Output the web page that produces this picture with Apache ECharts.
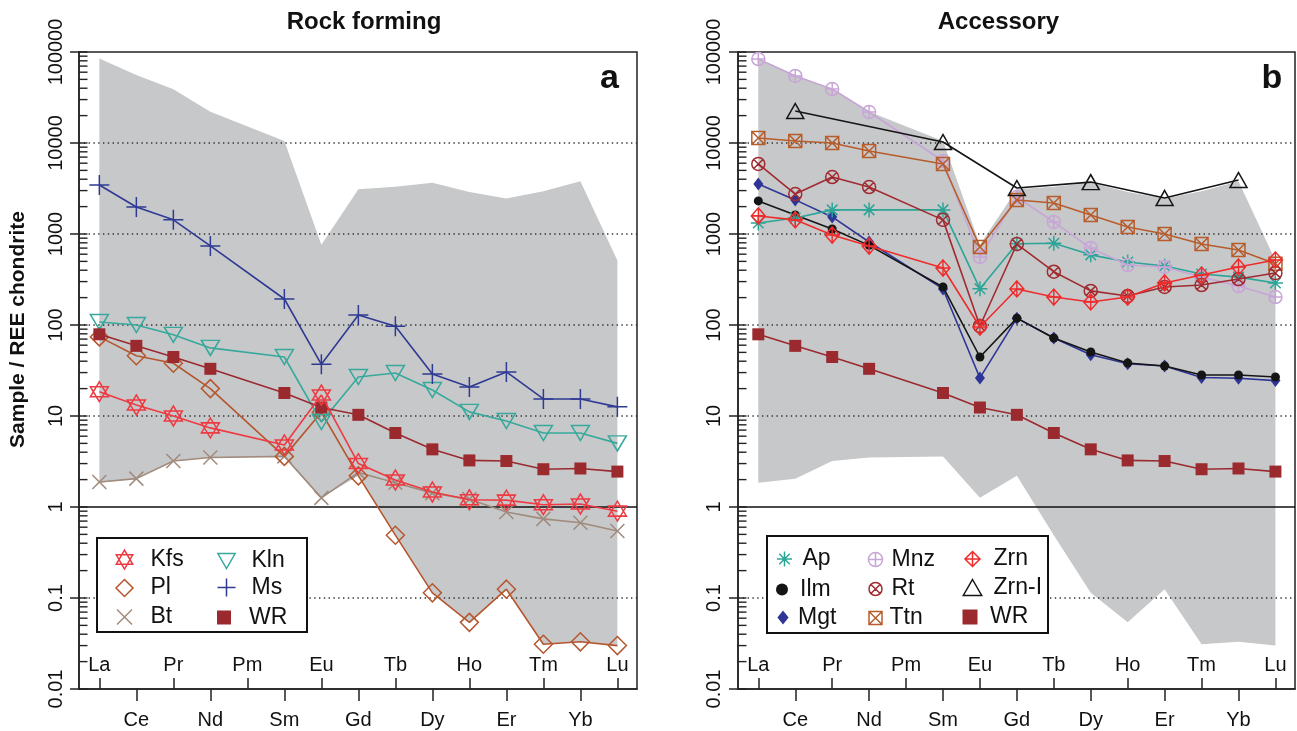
<!DOCTYPE html>
<html><head><meta charset="utf-8">
<script src="https://cdn.jsdelivr.net/npm/echarts@6/dist/echarts.min.js"></script>
<style>html,body{margin:0;padding:0;background:#fff}#c{width:1297px;height:731px}</style>
</head><body><div id="c"></div>
<script>
// ---------------- data ----------------
const ELEMENTS = ['La','Ce','Pr','Nd','Pm','Sm','Eu','Gd','Tb','Dy','Ho','Er','Tm','Yb','Lu'];
const TOP_ROW_TICKS = [0,2,4,6,8,10,12,14];
const BOTTOM_ROW_TICKS = [1,3,5,7,9,11,13];

// panel a : rock forming minerals
const kfs = [18.5, 13.2, 10.0, 7.4, null, 4.8, 17.0, 3.0, 1.98, 1.46, 1.2, 1.19, 1.06, 1.08, 0.9];
const pl  = [74, 46, 38, 20, null, 3.6, 11, 2.2, 0.49, 0.114, 0.054, 0.125, 0.031, 0.033, 0.030];
const bt  = [1.88, 2.05, 3.2, 3.5, null, 3.6, 1.26, 2.4, 1.85, 1.42, 1.22, 0.88, 0.74, 0.67, 0.545];
const kln = [108, 100, 78, 56, null, 44.5, 8.6, 26.8, 29.7, 19.3, 11.1, 8.8, 6.5, 6.5, 5.0];
const ms  = [3450, 1980, 1430, 740, null, 193, 37, 129, 97, 29, 20.8, 30.5, 15.4, 15.4, 12.6];
const wr  = [79, 59, 44.5, 33, null, 17.9, 12.4, 10.3, 6.5, 4.3, 3.25, 3.2, 2.6, 2.65, 2.45];

// panel b : accessory minerals
const ap   = [1320, 1500, 1840, 1840, null, 1840, 250, 780, 790, 590, 493, 445, 363, 336, 290];
const ilm  = [2310, 1620, 1135, 750, null, 262, 44.5, 119, 72, 50.5, 38.2, 35.4, 28.2, 28.2, 26.8];
const mgt  = [3540, 2370, 1540, 817, null, 249, 26.2, 119, 72, 47, 37.5, 35.4, 26.5, 26, 24.5];
const mnz  = [83700, 54500, 39200, 21900, null, 6340, 560, 2550, 1355, 701, 456, 434, 336, 268, 203];
const rt   = [5880, 2750, 4230, 3280, null, 1430, 97.5, 776, 385, 237, 208, 262, 275, 320, 372];
const ttn  = [11350, 10500, 10000, 8170, null, 5880, 720, 2365, 2190, 1620, 1195, 1000, 776, 667, 470];
const zrn  = [1580, 1430, 975, 738, null, 423, 95, 249, 203, 179, 203, 290, 354, 434, 518];
const zrnI = [null, 22500, null, null, null, 10260, null, 3200, null, 3720, null, 2490, null, 3920, null];

// grey envelope (range of all minerals)
const envUpper = [85000, 56000, 39000, 22000, null, 10500, 760, 3100, 3300, 3650, 2900, 2450, 2950, 3800, 510];
const envLower = [1.85, 2.05, 3.2, 3.5, null, 3.6, 1.26, 2.2, 0.49, 0.114, 0.054, 0.125, 0.031, 0.033, 0.030];

const DOTTED_LEVELS = [0.1, 10, 100, 1000, 10000];
const SOLID_LEVELS = [1];

// ---------------- styles ----------------
const FONT = '"Liberation Sans", Arial, Helvetica, sans-serif';
const GRAY = '#c7c8ca';
const CIRC = 'M0,50 A50,50 0 1 1 100,50 A50,50 0 1 1 0,50 Z';
const SQ = 'M0,0 L100,0 L100,100 L0,100 Z';
const DIA = 'M50,0 L100,50 L50,100 L0,50 Z';
const PLUS = 'M50,0 L50,100 M0,50 L100,50';
const XS = 'M0,0 L100,100 M100,0 L0,100';
const XS_IN = 'M15,15 L85,85 M85,15 L15,85';
const SYM = {
  star: {p: 'M50,0 L93.3,75 L6.7,75 Z M50,100 L6.7,25 L93.3,25 Z', ar: 0.866},
  diamond: {p: DIA, ar: 1},
  xcross: {p: XS, ar: 1},
  triDown: {p: 'M0,0 L100,0 L50,87 Z', ar: 1.149},
  triUp: {p: 'M50,0 L100,87 L0,87 Z', ar: 1.149},
  plus: {p: PLUS, ar: 1},
  square: {p: SQ, ar: 1},
  aster: {p: PLUS + ' ' + XS_IN, ar: 1},
  circle: {p: CIRC, ar: 1},
  circlePlus: {p: CIRC + ' ' + PLUS, ar: 1},
  circleX: {p: CIRC + ' ' + XS_IN, ar: 1},
  squareX: {p: SQ + ' ' + XS, ar: 1},
  diamondPlus: {p: DIA + ' ' + PLUS, ar: 1},
  diamondNarrow: {p: 'M40,0 L80,50 L40,100 L0,50 Z', ar: 0.8}
};
const STYLE = {
  'Kfs':  {color: '#ee3a42', sym: 'star',        hollow: true,  size: [18, 20]},
  'Pl':   {color: '#b5572e', sym: 'diamond',     hollow: true,  size: [18, 18]},
  'Bt':   {color: '#a08b7c', sym: 'xcross',      hollow: true,  size: [14, 14]},
  'Kln':  {color: '#37a99c', sym: 'triDown',     hollow: true,  size: [18, 15]},
  'Ms':   {color: '#2f3a93', sym: 'plus',        hollow: true,  size: [20, 20]},
  'WR':   {color: '#9b2a2f', sym: 'square',      hollow: false, size: [12, 12]},
  'Ap':   {color: '#2ca597', sym: 'aster',       hollow: true,  size: [15, 15]},
  'Ilm':  {color: '#151515', sym: 'circle',      hollow: false, size: [9, 9]},
  'Mgt':  {color: '#2e3596', sym: 'diamondNarrow', hollow: false, size: [10, 13]},
  'Mnz':  {color: '#c8a5d7', sym: 'circlePlus',  hollow: true,  size: [13, 13]},
  'Rt':   {color: '#a02b30', sym: 'circleX',     hollow: true,  size: [13, 13]},
  'Ttn':  {color: '#b75d2c', sym: 'squareX',     hollow: true,  size: [13, 13]},
  'Zrn':  {color: '#ee2c2c', sym: 'diamondPlus', hollow: true,  size: [14, 16]},
  'Zrn-I':{color: '#151515', sym: 'triUp',       hollow: true,  size: [17, 15]}
};
const PANEL_A = [['Bt', bt], ['Pl', pl], ['Kln', kln], ['Ms', ms], ['WR', wr], ['Kfs', kfs]];
const PANEL_B = [['WR', wr], ['Mgt', mgt], ['Ilm', ilm], ['Ap', ap], ['Mnz', mnz], ['Ttn', ttn], ['Rt', rt], ['Zrn', zrn], ['Zrn-I', zrnI]];

const LEGEND_A = [
  {name: 'Kfs', cx: 122, tx: 148, cy: 557, h: 19},
  {name: 'Pl',  cx: 122, tx: 148, cy: 585, h: 17},
  {name: 'Bt',  cx: 122, tx: 148, cy: 613, h: 15},
  {name: 'Kln', cx: 224, tx: 249, cy: 557, h: 15},
  {name: 'Ms',  cx: 224, tx: 249, cy: 585, h: 18},
  {name: 'WR',  cx: 224, tx: 249, cy: 613, h: 14}
];
const LEGEND_B = [
  {name: 'Ap',    cx: 782, tx: 800, cy: 555, h: 15},
  {name: 'Ilm',   cx: 782, tx: 800, cy: 584, h: 12},
  {name: 'Mgt',   cx: 783, tx: 798, cy: 613, h: 14},
  {name: 'Mnz',   cx: 873, tx: 889, cy: 555, h: 14},
  {name: 'Rt',    cx: 873, tx: 889, cy: 584, h: 13},
  {name: 'Ttn',   cx: 873, tx: 887, cy: 613, h: 13},
  {name: 'Zrn',   cx: 970, tx: 991, cy: 555, h: 15},
  {name: 'Zrn-I', cx: 970, tx: 991, cy: 584, h: 16},
  {name: 'WR',    cx: 970, tx: 990, cy: 613, h: 15}
];

// ---------------- layout ----------------
const X_MIN = -0.55, X_MAX = 14.53;
const GRIDS = [
  {left: 79, top: 52, width: 558, height: 637, labelMargin: 13},
  {left: 738, top: 52, width: 557, height: 637, labelMargin: 14}
];
const TICK_VALUES = [];
for (let e = -2; e <= 5; e++) for (let m = 1; m <= 9; m++) { const v = m * Math.pow(10, e); if (v <= 100000 * 1.0001) TICK_VALUES.push(+v.toPrecision(6)); }

function pts(arr) { return arr.map((v, i) => v == null ? null : [i, v]).filter(Boolean); }
function symStyle(s) {
  return s.hollow ? {color: 'none', borderColor: s.color, borderWidth: 1.5}
                  : {color: s.color, borderColor: s.color, borderWidth: 0};
}

const grid = GRIDS.map(g => ({left: g.left, top: g.top, width: g.width, height: g.height,
  show: true, borderColor: '#222', borderWidth: 1.5, backgroundColor: 'transparent', outerBoundsMode: 'none', containLabel: false}));

const xAxis = [], yAxis = [], series = [], legend = [];
GRIDS.forEach((g, gi) => {
  const common = {type: 'value', gridIndex: gi, min: X_MIN, max: X_MAX, position: 'bottom', splitLine: {show: false}, z: 10};
  xAxis.push(Object.assign({}, common, {
    axisLine: {show: true, onZero: false, lineStyle: {color: '#222', width: 1.5}},
    axisTick: {show: true, inside: true, length: 11, customValues: TOP_ROW_TICKS, lineStyle: {color: '#222', width: 1.5}},
    axisLabel: {show: true, inside: true, margin: 14, customValues: TOP_ROW_TICKS, formatter: v => ELEMENTS[Math.round(v)],
      fontSize: 20, fontFamily: FONT, color: '#111'}
  }));
  xAxis.push(Object.assign({}, common, {
    axisLine: {show: false, onZero: false},
    axisTick: {show: true, inside: false, length: 12, customValues: BOTTOM_ROW_TICKS, lineStyle: {color: '#222', width: 1.5}},
    axisLabel: {show: true, inside: false, margin: 21, customValues: BOTTOM_ROW_TICKS, formatter: v => ELEMENTS[Math.round(v)],
      fontSize: 20, fontFamily: FONT, color: '#111'}
  }));
  yAxis.push({type: 'log', logBase: 10, gridIndex: gi, min: 0.01, max: 100000, z: 10,
    axisLine: {show: true, onZero: false, lineStyle: {color: '#222', width: 1.5}},
    axisTick: {show: true, inside: false, length: 9, lineStyle: {color: '#222', width: 1.5}},
    minorTick: {show: false}, splitLine: {show: false},
    axisLabel: {rotate: 90, margin: g.labelMargin, fontSize: 20, fontFamily: FONT, color: '#111',
      formatter: v => { const e = Math.round(Math.log10(v)); return e >= 0 ? String(Math.pow(10, e)) : Math.pow(10, e).toFixed(-e); }}
  });
  const xi = 2 * gi, yi = gi;
  // grey envelope
  series.push({type: 'custom', name: 'range', xAxisIndex: xi, yAxisIndex: yi, z: 1, silent: true, data: [[0, 1]],
    renderItem: (params, api) => {
      const up = [], lo = [];
      ELEMENTS.forEach((e, i) => {
        if (envUpper[i] != null) up.push(api.coord([i, envUpper[i]]));
        if (envLower[i] != null) lo.push(api.coord([i, envLower[i]]));
      });
      return {type: 'polygon', shape: {points: up.concat(lo.reverse())}, style: {fill: GRAY}};
    }});
  // reference lines
  series.push({type: 'custom', name: 'ref', xAxisIndex: xi, yAxisIndex: yi, z: 2, silent: true,
    data: DOTTED_LEVELS.map(v => [0, v, 0]).concat(SOLID_LEVELS.map(v => [0, v, 1])),
    renderItem: (params, api) => {
      const v = api.value(1), solid = api.value(2) === 1;
      const a = api.coord([X_MIN, v]), b = api.coord([X_MAX, v]);
      return {type: 'line', shape: {x1: a[0], y1: a[1], x2: b[0], y2: b[1]},
        style: solid ? {stroke: '#111', lineWidth: 1.6} : {stroke: '#333', lineWidth: 1.4, lineDash: [1.4, 3.4]}};
    }});
  // inner y ticks (major + minor)
  series.push({type: 'custom', name: 'ticks', xAxisIndex: xi, yAxisIndex: yi, z: 6, silent: true, clip: false,
    data: TICK_VALUES.map(v => [X_MIN, v]),
    renderItem: (params, api) => {
      const p = api.coord([X_MIN, api.value(1)]);
      return {type: 'line', shape: {x1: p[0], y1: p[1], x2: p[0] + 8.5, y2: p[1]}, style: {stroke: '#222', lineWidth: 1.4}};
    }});
  const list = gi === 0 ? PANEL_A : PANEL_B;
  list.forEach(([name, arr], k) => {
    const s = STYLE[name];
    series.push({type: 'line', name, xAxisIndex: xi, yAxisIndex: yi, data: pts(arr), z: 5 + k * 0.01,
      symbol: 'path://' + SYM[s.sym].p, symbolSize: s.size, symbolKeepAspect: false, showSymbol: true,
      lineStyle: {color: s.color, width: 1.6}, itemStyle: symStyle(s), emphasis: {disabled: true}, silent: true});
  });
  const lg = gi === 0 ? LEGEND_A : LEGEND_B;
  lg.forEach(it => {
    const s = STYLE[it.name];
    const w = 2 * (it.tx - 5 - it.cx);
    const visW = it.h * SYM[s.sym].ar;
    legend.push({show: true, selectedMode: false, orient: 'vertical', left: it.cx - visW / 2, top: it.cy - it.h / 2,
      padding: 0, itemWidth: w, itemHeight: it.h, itemGap: 0, z: 20, symbolKeepAspect: true,
      textStyle: {fontSize: 23, fontFamily: FONT, color: '#111', lineHeight: 8},
      data: [{name: it.name, icon: 'path://' + SYM[s.sym].p, itemStyle: symStyle(s)}]});
  });
});

function txt(x, y, text, size, bold, rot) {
  return {type: 'text', x, y, rotation: rot || 0, z: 30, silent: true,
    style: {text, fontSize: size, fontWeight: bold ? 'bold' : 'normal', fontFamily: FONT, fill: '#111',
      align: 'center', verticalAlign: 'middle', textAlign: 'center', textVerticalAlign: 'middle'}};
}
const graphic = {elements: [
  {type: 'rect', z: 15, silent: true, shape: {x: 97, y: 538, width: 210, height: 94}, style: {fill: '#fff', stroke: '#111', lineWidth: 2}},
  {type: 'rect', z: 15, silent: true, shape: {x: 767, y: 536, width: 281, height: 97}, style: {fill: '#fff', stroke: '#111', lineWidth: 2}},
  txt(364, 22, 'Rock forming', 24, true),
  txt(998.5, 22, 'Accessory', 24, true),
  txt(609.5, 79, 'a', 34, true),
  txt(1272, 79, 'b', 34, true),
  txt(18, 329.5, 'Sample / REE chondrite', 21, true, Math.PI / 2)
]};

const chart = echarts.init(document.getElementById('c'), null, {renderer: 'canvas'});
chart.setOption({backgroundColor: '#fff', animation: false, grid, xAxis, yAxis, series, legend, graphic, tooltip: {show: false}});
</script></body></html>
